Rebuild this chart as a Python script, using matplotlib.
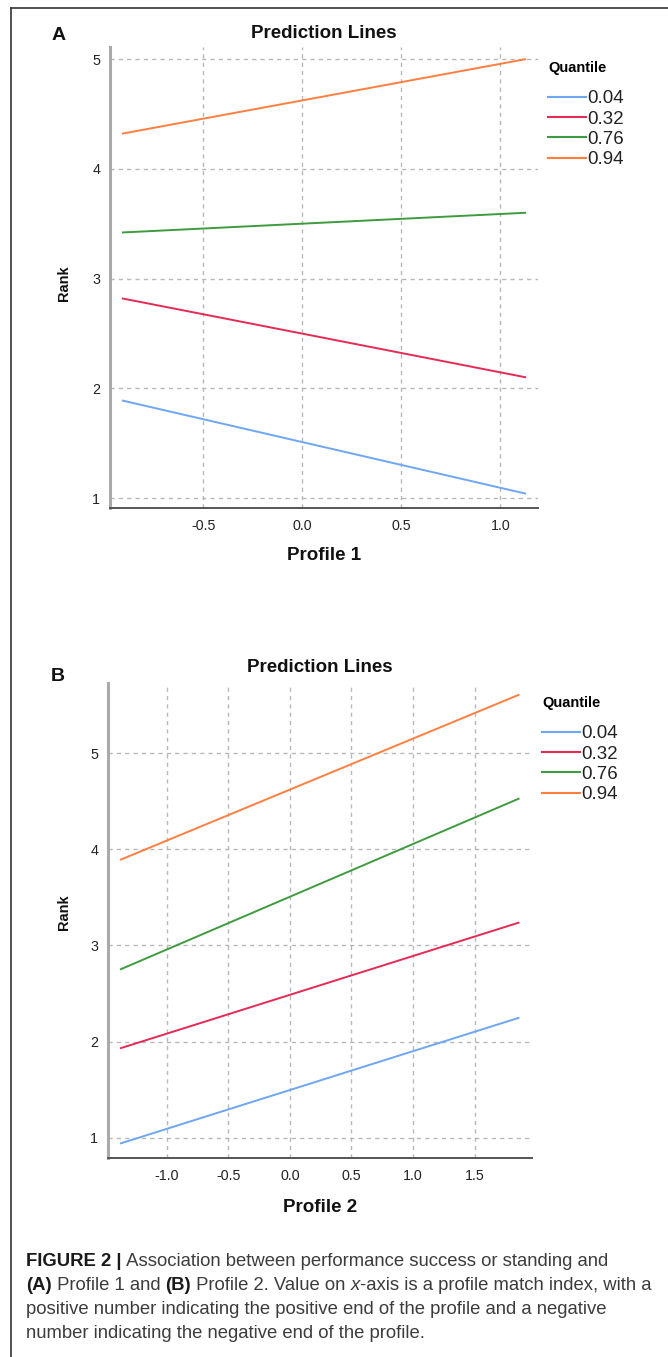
import matplotlib
matplotlib.use("Agg")
import matplotlib.pyplot as plt
from matplotlib.lines import Line2D

plt.rcParams['font.family'] = ['Liberation Sans', 'DejaVu Sans']

# ---------------- data ----------------
quantiles = ["0.04", "0.32", "0.76", "0.94"]
colors = ["#6fa6f2", "#e52a55", "#3e9b3e", "#ff7f41"]

# Panel A: Profile 1 (line endpoints)
x_a = [-0.91, 1.13]
rank_a_q04 = [1.89, 1.04]
rank_a_q32 = [2.82, 2.10]
rank_a_q76 = [3.42, 3.60]
rank_a_q94 = [4.32, 5.00]
xticks_a = [-0.5, 0.0, 0.5, 1.0]
yticks_a = [1, 2, 3, 4, 5]

# Panel B: Profile 2 (line endpoints)
x_b = [-1.38, 1.865]
rank_b_q04 = [0.94, 2.25]
rank_b_q32 = [1.93, 3.24]
rank_b_q76 = [2.75, 4.53]
rank_b_q94 = [3.89, 5.61]
xticks_b = [-1.0, -0.5, 0.0, 0.5, 1.0, 1.5]
yticks_b = [1, 2, 3, 4, 5]

caption_lines = [
    [("FIGURE 2 |", "bold", "normal"),
     (" Association between performance success or standing and", "normal", "normal")],
    [("(A)", "bold", "normal"), (" Profile 1 and ", "normal", "normal"),
     ("(B)", "bold", "normal"), (" Profile 2. Value on ", "normal", "normal"),
     ("x", "normal", "italic"),
     ("-axis is a profile match index, with a", "normal", "normal")],
    [("positive number indicating the positive end of the profile and a negative",
      "normal", "normal")],
    [("number indicating the negative end of the profile.", "normal", "normal")],
]

W, H = 668, 1357
fig = plt.figure(figsize=(W / 100, H / 100), dpi=100)


def fx(px):
    return px / W


def fy(py):
    return 1 - py / H


def panel(rect, xs, series, xticks, yticks, xlim, ylim, xlabel, letter,
          title_xy, letter_xy, xlabel_y, rank_xy, legend_xy):
    ax = fig.add_axes(rect)
    for vals, c, q in zip(series, colors, quantiles):
        ax.plot(xs, vals, color=c, lw=1.4, solid_capstyle='butt', label=q)
    ax.set_xlim(*xlim)
    ax.set_ylim(*ylim)
    ax.set_xticks(xticks)
    ax.set_xticklabels([f"{t:.1f}" for t in xticks])
    ax.set_yticks(yticks)
    ax.set_yticklabels([str(t) for t in yticks])
    ax.tick_params(length=0, labelsize=10.3, colors='#222222', pad=7)
    ax.tick_params(axis='x', pad=8)
    ax.grid(True, color='#b8b8b8', lw=1.0, linestyle=(0, (3, 3)))
    ax.set_axisbelow(True)
    for s in ['top', 'right']:
        ax.spines[s].set_visible(False)
    ax.spines['left'].set_color('#aaaaaa')
    ax.spines['left'].set_linewidth(2.2)
    ax.spines['bottom'].set_color('#555555')
    ax.spines['bottom'].set_linewidth(1.4)
    # texts
    fig.text(fx(title_xy[0]), fy(title_xy[1]), "Prediction Lines", ha='center',
             va='center', fontsize=13.5, fontweight='bold', color='#111111')
    fig.text(fx(letter_xy[0]), fy(letter_xy[1]), letter, ha='center', va='center',
             fontsize=14, fontweight='bold', color='#111111')
    fig.text(fx(title_xy[0]), fy(xlabel_y), xlabel, ha='center', va='center',
             fontsize=13.5, fontweight='bold', color='#111111')
    fig.text(fx(rank_xy[0]), fy(rank_xy[1]), "Rank", ha='center', va='center',
             rotation=90, fontsize=10.5, fontweight='bold', color='#111111')
    # legend
    handles = [Line2D([0], [0], color=c, lw=1.5) for c in colors]
    leg = fig.legend(handles, quantiles, title="Quantile",
                     loc='upper left', bbox_to_anchor=(fx(legend_xy[0]), fy(legend_xy[1])),
                     frameon=False, fontsize=13.5, handlelength=2.0, handletextpad=0.1,
                     labelspacing=0.17, borderaxespad=0, borderpad=0,
                     title_fontproperties={'weight': 'bold', 'size': 10.5})
    leg._legend_box.align = "left"
    leg._legend_box.sep = 11
    for t in leg.get_texts():
        t.set_color('#222222')
    return ax


panel([fx(110), fy(508), fx(538) - fx(110), fy(47) - fy(508)],
      x_a, [rank_a_q04, rank_a_q32, rank_a_q76, rank_a_q94],
      xticks_a, yticks_a, (-0.97, 1.19), (0.91, 5.11),
      "Profile 1", "A", (324, 33), (59, 35), 555, (64, 283), (548, 61))

panel([fx(108), fy(1158), fx(532) - fx(108), fy(683) - fy(1158)],
      x_b, [rank_b_q04, rank_b_q32, rank_b_q76, rank_b_q94],
      xticks_b, yticks_b, (-1.478, 1.967), (0.79, 5.73),
      "Profile 2", "B", (320, 667), (58, 676), 1207, (64, 912), (542, 696))

# border (left and top)
fig.add_artist(Line2D([fx(11), fx(11)], [fy(8), 0], color='#333333', lw=1.2))
fig.add_artist(Line2D([fx(11), 1], [fy(8), fy(8)], color='#333333', lw=1.2))

# caption: runs placed sequentially
renderer = fig.canvas.get_renderer()
cap_size = 13.35
line_y = [1262, 1286, 1310, 1334]
for runs, yy in zip(caption_lines, line_y):
    xpx = 26.0
    for txt, wt, st in runs:
        t = fig.text(fx(xpx), fy(yy), txt, fontsize=cap_size, fontweight=wt,
                     fontstyle=st, color='#1a1a1a' if wt == 'bold' else '#3c3c3c',
                     va='center', ha='left')
        bb = t.get_window_extent(renderer=renderer)
        xpx += bb.width

fig.savefig("out.png", dpi=100)
